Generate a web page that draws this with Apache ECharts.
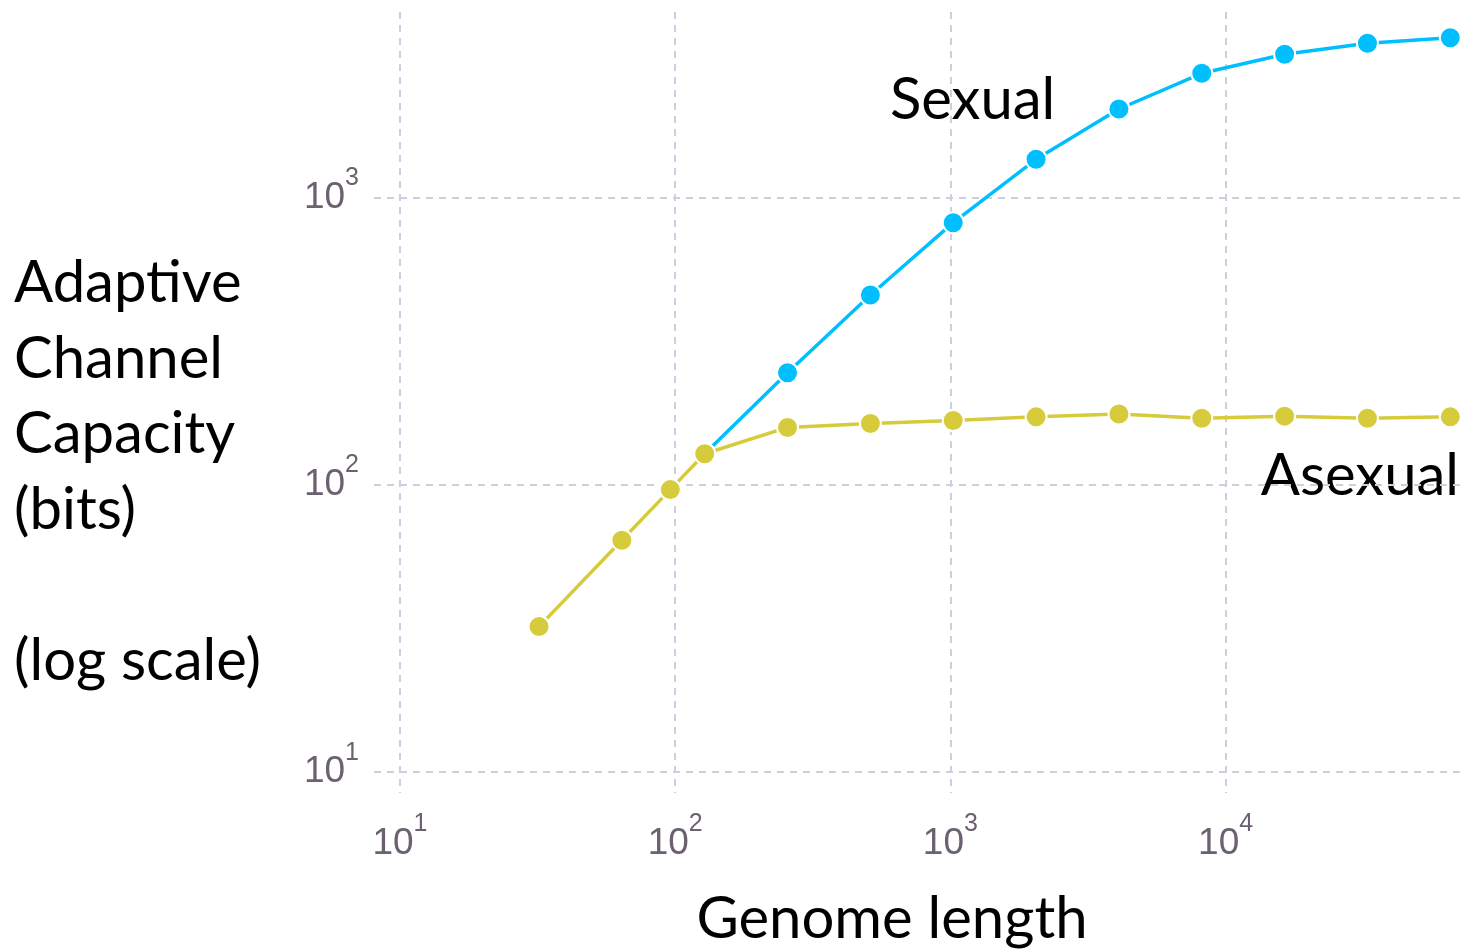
<!DOCTYPE html>
<html>
<head>
<meta charset="utf-8">
<script src="https://cdn.jsdelivr.net/npm/echarts@6/dist/echarts.min.js"></script>
<style>
  html, body { margin: 0; padding: 0; background: #ffffff; }
  #chart { width: 1471px; height: 952px; }
</style>
</head>
<body>
<div id="chart"></div>
<script>
// Genome lengths (x) and adaptive channel capacity in bits (y)
const sexualLength = [128, 256, 512, 1024, 2048, 4096, 8192, 16384, 32768, 65536];
const sexualCapacity = [128, 245, 457, 816, 1356, 2030, 2703, 3147, 3438, 3595];

const asexualLength = [32, 64, 96, 128, 256, 512, 1024, 2048, 4096, 8192, 16384, 32768, 65536];
const asexualCapacity = [32, 64, 96, 128, 158, 163, 167, 172, 176, 170, 173, 170, 172];

const seriesNames = ['Sexual', 'Asexual'];
const yTitleLines = ['Adaptive', 'Channel', 'Capacity', '(bits)', '', '(log scale)'];
const xTitle = 'Genome length';

const BLUE = '#00bfff';
const OLIVE = '#d5cb3b';
const TICK = '#6b6170';
const GRID = '#cfcde0';
const TEXT_FONT = 'Lato, "Open Sans", sans-serif';
const TICK_FONT = '"Liberation Sans", Arial, sans-serif';

function pairs(xs, ys) {
  return xs.map((x, i) => [x, ys[i]]);
}

// Labels only at whole powers of ten, written as 10 with a superscript exponent
function powerLabel(v) {
  const lg = Math.log10(v);
  const e = Math.round(lg);
  if (Math.abs(lg - e) > 1e-6) return '';
  return '{b|10}{s|' + e + '}';
}

const labelRich = {
  b: { fontSize: 37, lineHeight: 37, color: TICK, fontFamily: TICK_FONT, verticalAlign: 'bottom' },
  s: { fontSize: 25, lineHeight: 25, padding: [0, 0, 25, 0], color: TICK, fontFamily: TICK_FONT, verticalAlign: 'bottom' }
};

const dashedGrid = {
  show: true,
  showMinLine: false,
  showMaxLine: false,
  lineStyle: { color: GRID, width: 2, type: [7, 6] }
};

const chart = echarts.init(document.getElementById('chart'), null, { renderer: 'canvas' });

chart.setOption({
  backgroundColor: '#ffffff',
  animation: false,
  grid: { left: 374, right: 5, top: 12, bottom: 159, containLabel: false },
  xAxis: {
    type: 'log',
    logBase: 10,
    min: 8.045,
    max: 74740,
    axisLine: { show: false },
    axisTick: { show: false },
    splitLine: dashedGrid,
    axisLabel: {
      margin: 32,
      fontSize: 37,
      fontFamily: TICK_FONT,
      color: TICK,
      showMinLabel: false,
      showMaxLabel: false,
      formatter: powerLabel,
      rich: labelRich
    }
  },
  yAxis: {
    type: 'log',
    logBase: 10,
    min: 8.43,
    max: 4418,
    axisLine: { show: false },
    axisTick: { show: false },
    splitLine: dashedGrid,
    axisLabel: {
      margin: 15,
      fontSize: 37,
      fontFamily: TICK_FONT,
      color: TICK,
      showMinLabel: false,
      showMaxLabel: false,
      formatter: powerLabel,
      rich: labelRich
    }
  },
  series: [
    {
      name: seriesNames[0],
      type: 'line',
      data: pairs(sexualLength, sexualCapacity),
      symbol: 'circle',
      symbolSize: 21,
      lineStyle: { color: BLUE, width: 3.5 },
      itemStyle: { color: BLUE, borderColor: '#ffffff', borderWidth: 2 },
      z: 2
    },
    {
      name: seriesNames[1],
      type: 'line',
      data: pairs(asexualLength, asexualCapacity),
      symbol: 'circle',
      symbolSize: 21,
      lineStyle: { color: OLIVE, width: 3.5 },
      itemStyle: { color: OLIVE, borderColor: '#ffffff', borderWidth: 2 },
      z: 3
    }
  ],
  graphic: [
    {
      type: 'text',
      x: 14, y: 246,
      style: { text: yTitleLines.join('\n'), font: '58px ' + TEXT_FONT, fill: '#000000', lineHeight: 75.5, verticalAlign: 'top' }
    },
    {
      type: 'text',
      x: 892, y: 919,
      style: { text: xTitle, font: '58px ' + TEXT_FONT, fill: '#000000', align: 'center', verticalAlign: 'middle' }
    },
    {
      type: 'text',
      x: 890, y: 100,
      style: { text: seriesNames[0], font: '58px ' + TEXT_FONT, fill: '#000000', verticalAlign: 'middle' }
    },
    {
      type: 'text',
      x: 1459, y: 476,
      style: { text: seriesNames[1], font: '58px ' + TEXT_FONT, fill: '#000000', align: 'right', verticalAlign: 'middle' }
    }
  ]
});
</script>
</body>
</html>
